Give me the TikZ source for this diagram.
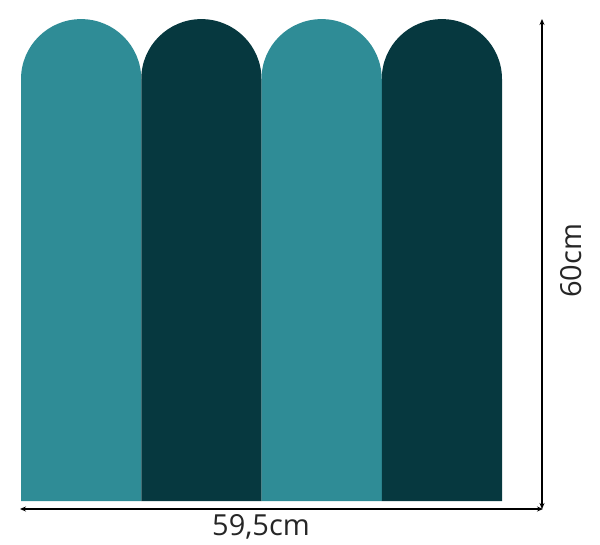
\documentclass[tikz,border=0pt]{standalone}
\usepackage{fontspec}
\setmainfont{Open Sans}
\usetikzlibrary{arrows.meta}
\definecolor{tealA}{HTML}{2F8C96}
\definecolor{tealD}{HTML}{06383F}
\begin{document}
\begin{tikzpicture}[x=1pt,y=-1pt,
  panel/.style={line width=0pt},
  dim/.style={line width=1.3pt, {Stealth[length=6pt,width=5pt]}-{Stealth[length=6pt,width=5pt]}},
  dimlabel/.style={font=\fontsize{29}{32}\selectfont, text=black!85, inner sep=0pt}]
\useasboundingbox (0,0) rectangle (600,545);
\def\w{120.25}
\foreach \i/\c in {0/tealA,1/tealD,2/tealA,3/tealD}{
  \fill[\c] ({21+\i*\w},501) -- ({21+\i*\w},79.1) arc[start angle=180,end angle=0,x radius={\w/2},y radius=-60] -- ({21+(\i+1)*\w},501) -- cycle;
}
\coordinate (hl) at (20,509);
\coordinate (hr) at (543,509);
\coordinate (vt) at (542,19);
\coordinate (vb) at (542,509);
\draw[dim] (hl) -- (hr);
\draw[dim] (vt) -- (vb);
\node[dimlabel] (wl) at (261,527) {59,5cm};
\node[dimlabel, rotate=90] (hlbl) at (571,261) {60cm};
\end{tikzpicture}
\end{document}
